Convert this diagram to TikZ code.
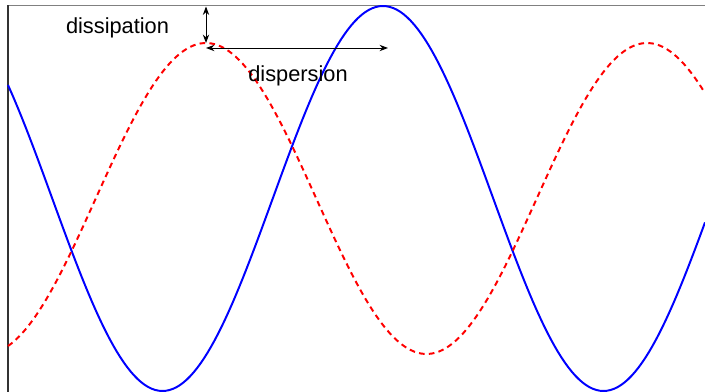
\documentclass[tikz,border=0pt]{standalone}
\usepackage{fontspec}
\setmainfont{Liberation Sans}
\usepackage{xcolor}
\usetikzlibrary{arrows.meta, positioning, calc}
\definecolor{wavenew}{HTML}{0000FF}
\definecolor{waveold}{HTML}{FF0000}

\begin{document}
\begin{tikzpicture}[x=0.025cm, y=-0.025cm, >={Stealth[length=6pt, width=4.5pt]}]
    \tikzstyle{measure} = [draw, <->, line width=0.7pt, color=black]
    \tikzstyle{lbl} = [inner sep=0pt, anchor=base, font=\fontsize{15.5}{18}\selectfont]
    \tikzstyle{wave} = [line width=1.4pt, line join=round]

    \useasboundingbox (0,0) rectangle (705,392);
    \clip (0,0) rectangle (705,392);

    % axes frame
    \draw [gray, line width=0.9pt] (8,5.5) -- (705,5.5);
    \draw [black!80, line width=0.9pt] (8,5.5) -- (8,392);

    % waves (period 441 px, 360/441 = 0.81633 deg per px)
    \draw [wave, wavenew] plot[domain=8:705, samples=200] (\x, {198.5 - 192.5*cos(0.81633*(\x-383))});
    \draw [wave, waveold, dash pattern=on 4pt off 3pt] plot[domain=8:705, samples=200] (\x, {198.5 - 155.5*cos(0.81633*(\x-206))});

    % markers
    \coordinate (top) at (206,6.5);
    \coordinate (peak) at (206,43);
    \coordinate (dstart) at (206,48);
    \coordinate (dend) at (388,48);

    \path [measure] (top) -- (peak);
    \path [measure] (dstart) -- (dend);

    \node [lbl] (dissip) at (117.5,34) {dissipation};
    \node [lbl] (dispers) at (298,82) {dispersion};
\end{tikzpicture}
\end{document}
